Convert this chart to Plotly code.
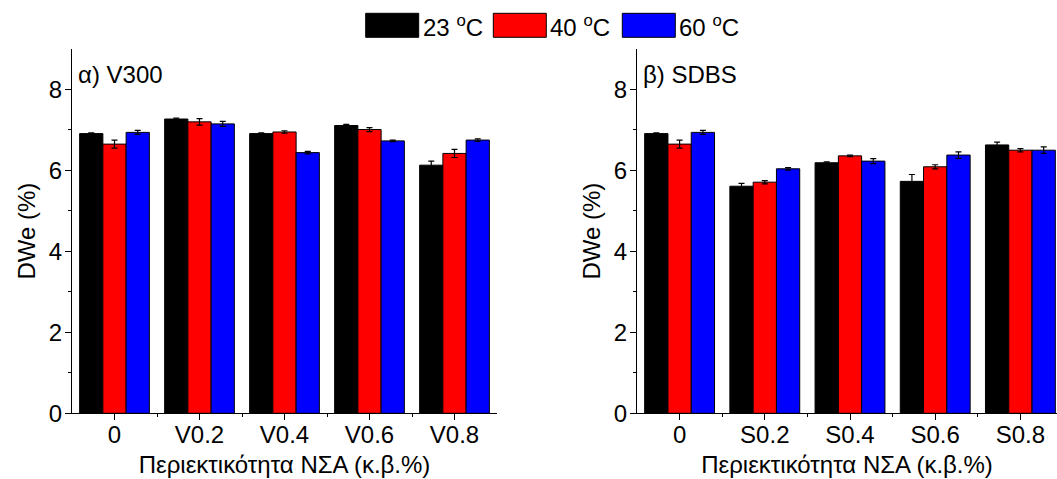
import plotly.graph_objects as go

# ---- data -------------------------------------------------------------
temps = ["23", "40", "60"]
colors = ["#000000", "#ff0000", "#0000ff"]

v_labels = ["0", "V0.2", "V0.4", "V0.6", "V0.8"]
v_23 = [6.91, 7.27, 6.91, 7.11, 6.13]
v_40 = [6.65, 7.20, 6.95, 7.01, 6.42]
v_60 = [6.94, 7.15, 6.44, 6.73, 6.75]
v_23_err = [0.02, 0.02, 0.02, 0.03, 0.10]
v_40_err = [0.10, 0.08, 0.03, 0.05, 0.10]
v_60_err = [0.05, 0.06, 0.03, 0.02, 0.03]

s_labels = ["0", "S0.2", "S0.4", "S0.6", "S0.8"]
s_23 = [6.91, 5.61, 6.19, 5.73, 6.63]
s_40 = [6.65, 5.71, 6.36, 6.09, 6.50]
s_60 = [6.94, 6.04, 6.23, 6.38, 6.50]
s_23_err = [0.02, 0.07, 0.02, 0.17, 0.07]
s_40_err = [0.10, 0.04, 0.02, 0.05, 0.04]
s_60_err = [0.05, 0.03, 0.06, 0.08, 0.08]

W, H = 1057, 479
FONT = "Arial, Liberation Sans, sans-serif"
FS = 24


def px_x(p):
    return p / W


def px_y(p):
    return 1 - p / H


fig = go.Figure()

panels = [
    ("x", "y", v_labels, [v_23, v_40, v_60], [v_23_err, v_40_err, v_60_err]),
    ("x2", "y2", s_labels, [s_23, s_40, s_60], [s_23_err, s_40_err, s_60_err]),
]
for xa, ya, labels, series, errs in panels:
    pos = list(range(len(labels)))
    for t, col, vals, err in zip(temps, colors, series, errs):
        fig.add_trace(go.Bar(
            x=pos, y=vals, name=f"{t} °C", xaxis=xa, yaxis=ya,
            marker=dict(color=col, line=dict(color="#000000", width=1)),
            error_y=dict(type="data", array=err, visible=True,
                         color="#000000", thickness=1.2, width=3),
            showlegend=False,
        ))

y_dom = [px_y(413.3), px_y(49)]
axis_common = dict(
    automargin=False,
    showline=True, linecolor="#000000", linewidth=1.3,
    ticks="outside", ticklen=6, tickwidth=1.2, tickcolor="#000000",
    showgrid=False, zeroline=False,
    tickfont=dict(family=FONT, size=FS, color="#000000"),
)
x_common = dict(
    axis_common,
    tickmode="array", tickvals=list(range(5)),
    minor=dict(tickmode="array", tickvals=[0.5, 1.5, 2.5, 3.5],
               ticks="outside", ticklen=3, tickwidth=1, tickcolor="#000000"),
    ticklabelstandoff=-6,
    title=dict(text="Περιεκτικότητα ΝΣΑ (κ.β.%)",
               font=dict(family=FONT, size=FS, color="#000000"), standoff=8),
)
y_common = dict(
    axis_common,
    range=[0, 9], tickmode="array", tickvals=[0, 2, 4, 6, 8],
    minor=dict(tickmode="array", tickvals=[1, 3, 5, 7],
               ticks="outside", ticklen=3, tickwidth=1, tickcolor="#000000"),
    title=dict(text="DWe (%)",
               font=dict(family=FONT, size=FS, color="#000000"), standoff=6),
    ticklabelstandoff=-2,
)

fig.update_layout(
    width=W, height=H,
    margin=dict(l=0, r=0, t=0, b=0),
    paper_bgcolor="white", plot_bgcolor="white",
    barmode="group", bargap=0.18, bargroupgap=0.0,
    showlegend=False,
    font=dict(family=FONT, size=FS, color="#000000"),
    xaxis=dict(x_common, domain=[px_x(72), px_x(497)], range=[-0.5, 4.5],
               ticktext=v_labels, anchor="y"),
    yaxis=dict(y_common, domain=y_dom, anchor="x"),
    xaxis2=dict(x_common, domain=[px_x(637), 1.0],
                range=[-0.5, (W - 637) / 85.2 - 0.5],
                ticktext=s_labels, anchor="y2"),
    yaxis2=dict(y_common, domain=y_dom, anchor="x2"),
)

# panel captions
fig.add_annotation(text="α) V300", xref="paper", yref="paper",
                   x=px_x(76), y=px_y(74), xanchor="left", yanchor="middle",
                   showarrow=False, font=dict(family=FONT, size=FS))
fig.add_annotation(text="β) SDBS", xref="paper", yref="paper",
                   x=px_x(641), y=px_y(74), xanchor="left", yanchor="middle",
                   showarrow=False, font=dict(family=FONT, size=FS))

# legend row across the top
box_left = [365.7, 493.3, 622.3]
box_w, box_top, box_bot = 53, 13.3, 37.3
for left, t, col in zip(box_left, temps, colors):
    fig.add_shape(type="rect", xref="paper", yref="paper",
                  x0=px_x(left), x1=px_x(left + box_w),
                  y0=px_y(box_bot), y1=px_y(box_top),
                  fillcolor=col, line=dict(color="#000000", width=1))
    fig.add_annotation(text=f"{t} <sup>o</sup>C", xref="paper", yref="paper",
                       x=px_x(left + box_w + 2), y=px_y(25.5),
                       xanchor="left", yanchor="middle", showarrow=False,
                       font=dict(family=FONT, size=FS))

fig.write_html("out.html")
